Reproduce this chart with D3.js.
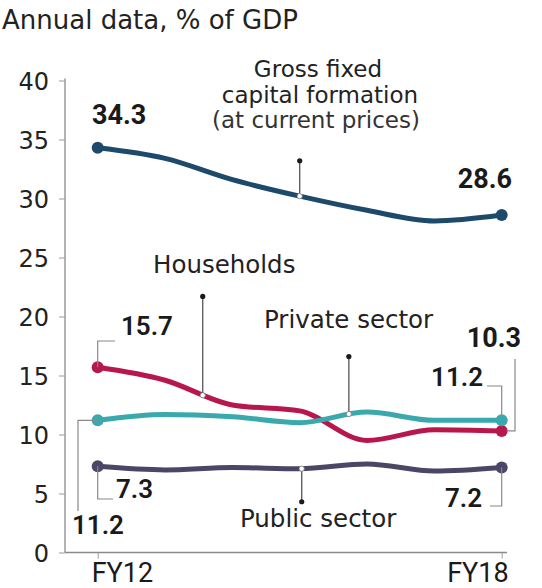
<!DOCTYPE html>
<html>
<head>
<meta charset="utf-8">
<script src="https://cdn.jsdelivr.net/npm/d3@7"></script>
<style>
  body { margin: 0; background: #fff; }
  svg { display: block; }
  .lbl { font-family: "DejaVu Sans", sans-serif; fill: #222; }
  .num { font-family: Roboto, sans-serif; fill: #1a1a1a; }
</style>
</head>
<body>
<div id="chart"></div>
<script>
// values, % of GDP
const years = ['FY12', 'FY13', 'FY14', 'FY15', 'FY16', 'FY17', 'FY18'];
const gfcf = [34.3, 33.4, 31.6, 30.2, 29.0, 28.1, 28.6];
const households = [15.7, 14.6, 12.5, 12.0, 9.5, 10.4, 10.3];
const privateSector = [11.2, 11.7, 11.5, 11.0, 11.9, 11.2, 11.2];
const publicSector = [7.3, 7.0, 7.2, 7.1, 7.5, 6.9, 7.2];
const yTicks = [0, 5, 10, 15, 20, 25, 30, 35, 40];
const xTickLabels = ['FY12', 'FY18'];

const width = 542, height = 588;

const svg = d3.select('#chart').append('svg')
  .attr('width', width)
  .attr('height', height);

const x = d3.scalePoint().domain(years).range([97.7, 501.7]);
const y = d3.scaleLinear().domain([0, 40]).range([552.5, 80.5]);
// fractional year position, for callouts that sit between years
const xi = d3.scaleLinear().domain([0, years.length - 1]).range(x.range());

// title
svg.append('text').attr('class', 'lbl')
  .attr('x', 2).attr('y', 29)
  .style('font-size', '26px')
  .text('Annual data, % of GDP');

// y axis
const yAxis = d3.axisLeft(y).tickValues(yTicks).tickSize(6).tickPadding(10);
const gy = svg.append('g')
  .attr('transform', 'translate(65,0)')
  .call(yAxis);
gy.select('.domain').attr('d', 'M0,' + (y(40) - 2) + 'V' + y(0)).attr('stroke', '#8a8a8a').attr('stroke-width', 1.3);
gy.selectAll('.tick line').attr('stroke', '#9a9a9a');
gy.selectAll('.tick text')
  .attr('class', 'lbl')
  .style('font-size', '24px')
  .attr('dy', '0.36em');

// x axis
const xAxis = d3.axisBottom(x).tickValues(xTickLabels).tickSize(6).tickFormat('');
const gx = svg.append('g')
  .attr('transform', 'translate(0,' + y(0) + ')')
  .call(xAxis);
gx.select('.domain').attr('d', 'M65,0H507').attr('stroke', '#8a8a8a').attr('stroke-width', 1.3);
gx.selectAll('.tick line').attr('stroke', '#9a9a9a');

svg.append('text').attr('class', 'num')
  .attr('x', x('FY12') - 6).attr('y', 582)
  .style('font-size', '27px')
  .text('FY12');
svg.append('text').attr('class', 'num')
  .attr('x', x('FY18') + 7).attr('y', 582)
  .attr('text-anchor', 'end')
  .style('font-size', '27px')
  .text('FY18');

// series
const series = [
  { name: 'gfcf', values: gfcf, color: '#1d4a6b' },
  { name: 'households', values: households, color: '#b8174b' },
  { name: 'private', values: privateSector, color: '#3aa9ad' },
  { name: 'public', values: publicSector, color: '#4a4766' }
];

const line = d3.line()
  .x((d, i) => x(years[i]))
  .y(d => y(d))
  .curve(d3.curveMonotoneX);

const paths = {};
series.forEach(s => {
  paths[s.name] = svg.append('path')
    .attr('d', line(s.values))
    .attr('fill', 'none')
    .attr('stroke', s.color)
    .attr('stroke-width', 5)
    .attr('stroke-linecap', 'round')
    .attr('stroke-linejoin', 'round');
  const ends = [0, s.values.length - 1];
  svg.selectAll(null)
    .data(ends)
    .enter()
    .append('circle')
    .attr('cx', i => x(years[i]))
    .attr('cy', i => y(s.values[i]))
    .attr('r', 6)
    .attr('fill', s.color);
});

// find the point of a path at a given x
function pointAtX(node, tx) {
  let lo = 0, hi = node.getTotalLength();
  for (let k = 0; k < 40; k++) {
    const mid = (lo + hi) / 2;
    if (node.getPointAtLength(mid).x < tx) lo = mid; else hi = mid;
  }
  return node.getPointAtLength(lo);
}

// callouts: series, fractional year index, value of the free end
const callouts = [
  { name: 'gfcf', at: 3.0, end: 33.2 },
  { name: 'households', at: 1.56, end: 21.7 },
  { name: 'private', at: 3.73, end: 16.6 },
  { name: 'public', at: 3.03, end: 4.3 }
];
callouts.forEach(c => {
  const px = xi(c.at);
  const p = pointAtX(paths[c.name].node(), px);
  svg.append('line')
    .attr('x1', px).attr('x2', px)
    .attr('y1', p.y).attr('y2', y(c.end))
    .attr('stroke', '#555').attr('stroke-width', 1.3);
  svg.append('circle')
    .attr('cx', px).attr('cy', y(c.end)).attr('r', 2.6)
    .attr('fill', '#1a1a1a');
  svg.append('circle')
    .attr('cx', px).attr('cy', p.y).attr('r', 2.6)
    .attr('fill', '#fff').attr('stroke', '#777').attr('stroke-width', 0.8);
});

// series labels
const g1 = svg.append('text').attr('class', 'lbl')
  .attr('text-anchor', 'middle')
  .style('font-size', '23px');
g1.append('tspan').attr('x', 318).attr('y', 77).text('Gross fixed');
g1.append('tspan').attr('x', 320).attr('y', 103).text('capital formation');
g1.append('tspan').attr('x', 316).attr('y', 128).style('fill', '#333').text('(at current prices)');

svg.append('text').attr('class', 'lbl')
  .attr('x', 153).attr('y', 273).style('font-size', '24.5px')
  .text('Households');
svg.append('text').attr('class', 'lbl')
  .attr('x', 264).attr('y', 328).style('font-size', '24.5px')
  .text('Private sector');
svg.append('text').attr('class', 'lbl')
  .attr('x', 240).attr('y', 527).style('font-size', '24.5px')
  .text('Public sector');

// value labels with their leader lines
const x0 = x('FY12'), x6 = x('FY18');
const leaders = [
  'M' + x0 + ',' + y(households[0]) + 'V341H115',
  'M' + x0 + ',' + y(privateSector[0]) + 'H78V511',
  'M' + x0 + ',' + y(publicSector[0]) + 'V499H113',
  'M487,386H' + x6 + 'V' + (y(privateSector[6]) - 5),
  'M' + (x6 + 5) + ',' + y(households[6]) + 'H515V359',
  'M' + x6 + ',' + y(publicSector[6]) + 'V506H490'
];
svg.selectAll(null)
  .data(leaders)
  .enter()
  .append('path')
  .attr('d', d => d)
  .attr('fill', 'none')
  .attr('stroke', '#888')
  .attr('stroke-width', 1.2);

const valueLabels = [
  { text: gfcf[0], x: 92, y: 124, weight: 700, size: 27, anchor: 'start' },
  { text: gfcf[6], x: 512, y: 188, weight: 700, size: 27, anchor: 'end' },
  { text: households[0], x: 121, y: 335, weight: 600, size: 26, anchor: 'start' },
  { text: privateSector[0], x: 72, y: 534, weight: 600, size: 26, anchor: 'start' },
  { text: publicSector[0], x: 116, y: 498, weight: 600, size: 26, anchor: 'start' },
  { text: households[6], x: 521, y: 347, weight: 700, size: 27, anchor: 'end' },
  { text: privateSector[6], x: 483, y: 386, weight: 600, size: 26, anchor: 'end' },
  { text: publicSector[6], x: 482, y: 507, weight: 600, size: 26, anchor: 'end' }
];
svg.selectAll(null)
  .data(valueLabels)
  .enter()
  .append('text')
  .attr('class', 'num')
  .attr('x', d => d.x)
  .attr('y', d => d.y)
  .attr('text-anchor', d => d.anchor)
  .style('font-size', d => d.size + 'px')
  .style('font-weight', d => d.weight)
  .text(d => d3.format('.1f')(d.text));
</script>
</body>
</html>
